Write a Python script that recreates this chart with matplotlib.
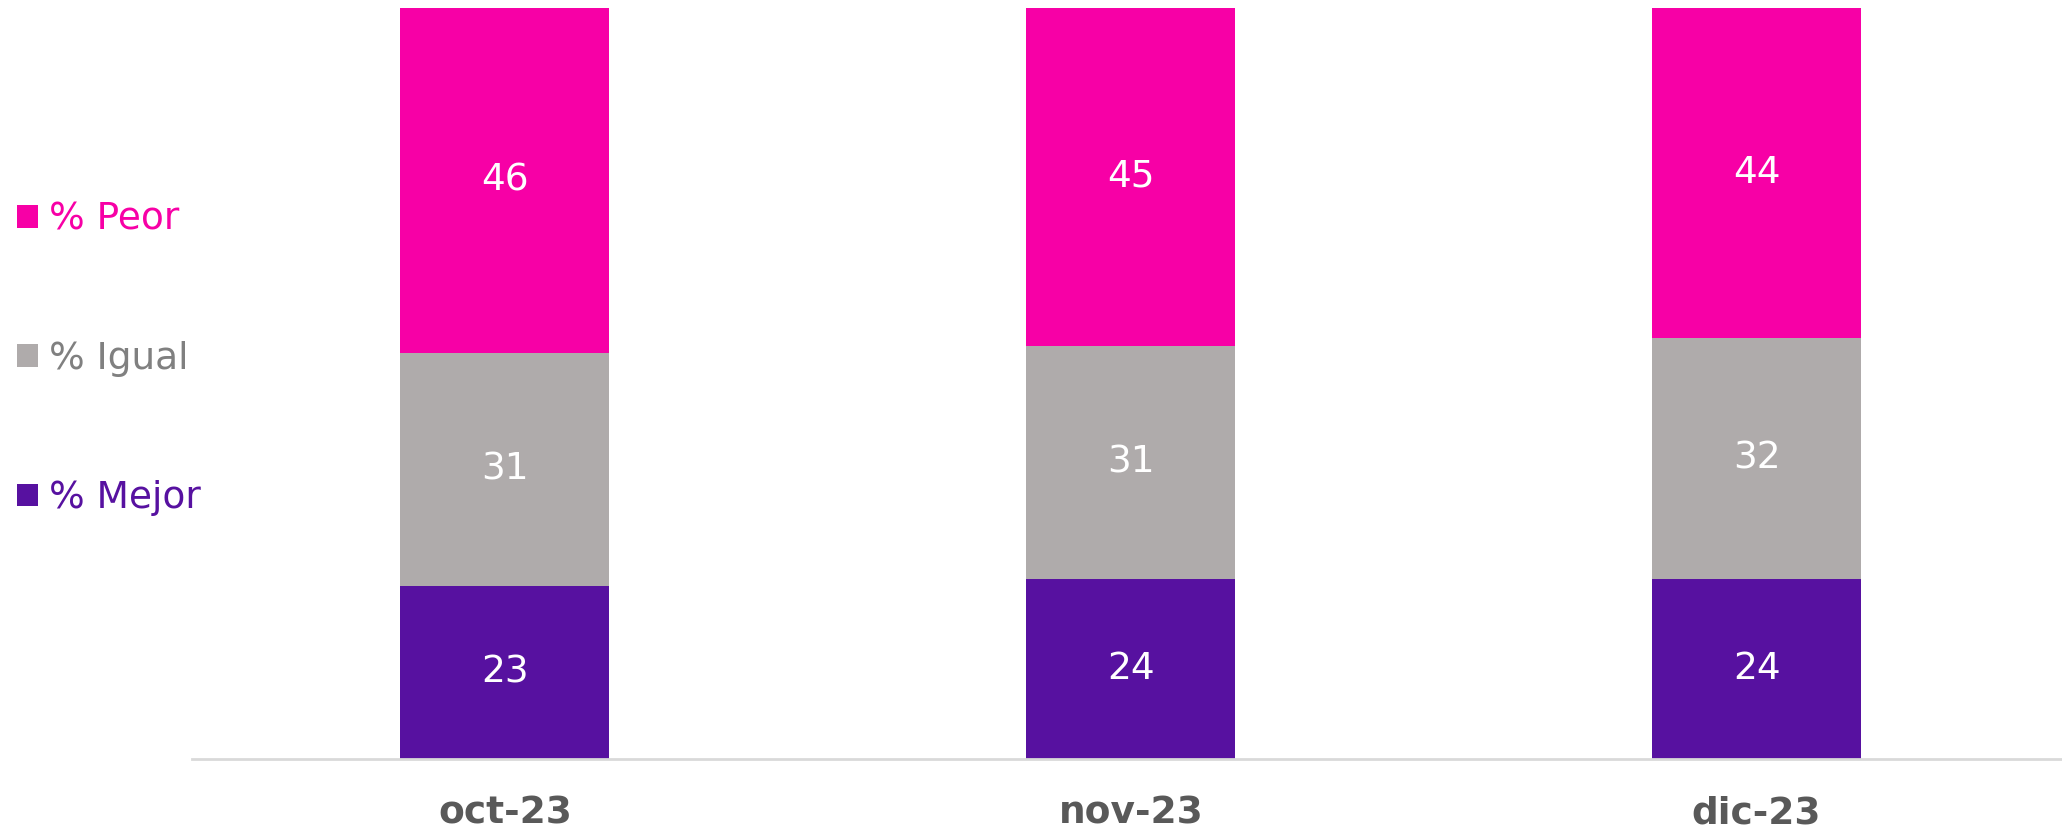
import numpy as np
import matplotlib.pyplot as plt
from matplotlib.patches import Patch

# Data
months = ["oct-23", "nov-23", "dic-23"]
mejor = [23, 24, 24]
igual = [31, 31, 32]
peor = [46, 45, 44]

series_names = ["% Mejor", "% Igual", "% Peor"]
colors = ["#5711A0", "#AFABAB", "#F700A6"]
text_colors = ["#5711A0", "#808080", "#F700A6"]

plt.rcParams['font.family'] = ['DejaVu Sans']

fig = plt.figure(figsize=(20.62, 8.36), dpi=100)
ax = fig.add_axes([192 / 2062, 77 / 836, 1870 / 2062, 751 / 836])

x = np.arange(len(months))
bottom = np.zeros(len(months))
for vals, name, col in zip([mejor, igual, peor], series_names, colors):
    bars = ax.bar(x, vals, width=0.334, bottom=bottom, color=col, label=name)
    ax.bar_label(bars, labels=[str(v) for v in vals], label_type="center",
                 color="white", fontsize=27)
    bottom += np.array(vals)

ax.set_xlim(-0.5, 2.488)
ax.set_ylim(0, 100)
ax.set_xticks(x)
ax.set_xticklabels(months, fontsize=27, fontweight="bold", color="#595959")
ax.tick_params(axis="x", length=0, pad=26)
ax.set_yticks([])
for s in ["top", "right", "left"]:
    ax.spines[s].set_visible(False)
ax.spines["bottom"].set_color("#D9D9D9")
ax.spines["bottom"].set_linewidth(2)

# Legend on the left, top to bottom: Peor, Igual, Mejor
handles = [Patch(facecolor=c) for c in colors][::-1]
leg = fig.legend(handles, series_names[::-1], loc="center left",
                 bbox_to_anchor=(17 / 2062, 1 - 359 / 836), frameon=False,
                 fontsize=27, handlelength=0.55, handleheight=0.55,
                 handletextpad=0.3, labelspacing=2.75, borderpad=0,
                 borderaxespad=0)
for txt, c in zip(leg.get_texts(), text_colors[::-1]):
    txt.set_color(c)

fig.savefig("out.png", dpi=100)
